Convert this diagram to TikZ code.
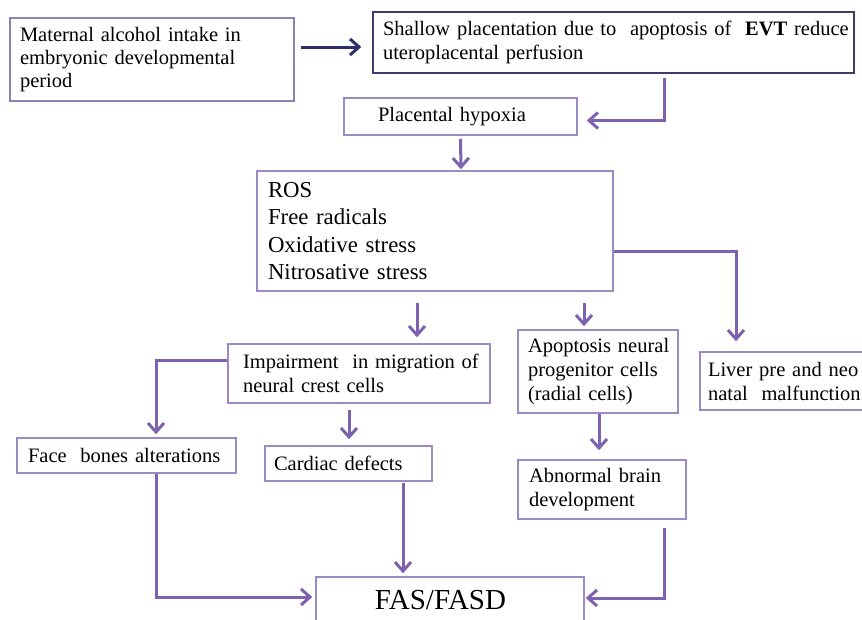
\documentclass[tikz,border=0pt]{standalone}
\usepackage{fontspec}
\setmainfont{Liberation Serif}
\usetikzlibrary{arrows.meta}
\definecolor{boxc}{HTML}{9A8BC6}
\definecolor{arrc}{HTML}{7D62AF}
\definecolor{navyc}{HTML}{2C2F6A}
\definecolor{matc}{HTML}{8C84B5}
\definecolor{shac}{HTML}{3B3D6E}
\begin{document}
\begin{tikzpicture}[x=1pt,y=-1pt,
  box/.style={draw=boxc,line width=1.5pt,rectangle,inner ysep=0pt,align=left,
    font=\fontsize{20.5}{24}\selectfont,text=black},
  arr/.style={draw=arrc,line width=3pt,-{Straight Barb[length=9pt,width=16pt]}},
  navyarr/.style={draw=navyc,line width=3pt,-{Straight Barb[length=9pt,width=16pt]}}]
\useasboundingbox (0,0) rectangle (862,619);
\fill[white] (0,0) rectangle (862,619);
\clip (0,0) rectangle (862,619);

\node[box,draw=matc,minimum width=284pt,minimum height=83pt,text width=264pt,inner xsep=10pt,
  font=\fontsize{20.5}{23}\selectfont] (mat) at (152,59.5)
  {Maternal alcohol intake in\\embryonic developmental\\period};
\node[box,draw=shac,minimum width=481pt,minimum height=61pt,text width=461pt,inner xsep=10pt] (sha) at (613.5,42.5)
  {\mbox{Shallow placentation due to\ \ apoptosis of\ \ \textbf{EVT} reduce}\\uteroplacental perfusion};
\node[box,minimum width=233pt,minimum height=37pt,text width=165pt,inner xsep=34pt] (hyp) at (460.5,116.5)
  {Placental hypoxia};
\node[box,minimum width=356pt,minimum height=120pt,text width=334pt,inner xsep=11pt,
  font=\fontsize{22.8}{27.3}\selectfont] (ros) at (435,231)
  {ROS\\Free radicals\\Oxidative stress\\Nitrosative stress};
\node[box,minimum width=262pt,minimum height=59pt,text width=232pt,inner xsep=15pt] (imp) at (359,373.5)
  {\mbox{Impairment\ \ in migration of}\\neural crest cells};
\node[box,minimum width=160pt,minimum height=83pt,text width=140pt,inner xsep=10pt] (apo) at (598,371.5)
  {\mbox{Apoptosis neural}\\progenitor cells\\(radial cells)};
\node[box,minimum width=172pt,minimum height=58pt,text width=156pt,inner xsep=8pt] (liv) at (786,381)
  {Liver pre and neo\\\mbox{natal\ \ malfunction}};
\node[box,minimum width=219pt,minimum height=35pt,text width=197pt,inner xsep=11pt] (face) at (126.5,455.5)
  {\mbox{Face\ \ bones alterations}};
\node[box,minimum width=167pt,minimum height=35pt,text width=149pt,inner xsep=9pt] (car) at (348.5,463.5)
  {Cardiac defects};
\node[box,minimum width=168pt,minimum height=59pt,text width=146pt,inner xsep=11pt] (abn) at (602,489.5)
  {Abnormal brain\\development};
\node[box,align=center,minimum width=268pt,minimum height=46pt,text width=248pt,inner xsep=10pt,
  font=\fontsize{29}{34}\selectfont] (fas) at (450,600)
  {\hspace*{-19pt}FAS/FASD};

\draw[navyarr] ([shift={(6,-12.5)}]mat.east) -- ([shift={(-11,4.5)}]sha.west);
\draw[arr] ([shift={(50.5,4)}]sha.south) |- ([shift={(9,4)}]hyp.east);
\draw[arr] ([shift={(0,3)}]hyp.south) -- ([shift={(26,-1)}]ros.north);
\draw[arr] ([shift={(0,20)}]ros.east) -| ([shift={(-50,-10)}]liv.north);
\draw[arr] ([shift={(-18,11)}]ros.south) -- ([shift={(58,-6)}]imp.north);
\draw[arr] ([shift={(149,11)}]ros.south) -- ([shift={(-14,-3)}]apo.north);
\draw[arr] ([shift={(0,-13.5)}]imp.west) -| ([shift={(29.5,-3)}]face.north);
\draw[arr] ([shift={(-10,6)}]imp.south) -- ([shift={(0.5,-6)}]car.north);
\draw[arr] ([shift={(1,0)}]apo.south) -- ([shift={(-3,-9)}]abn.north);
\draw[arr] ([xshift=29.5pt]face.south) |- ([shift={(-3,-3)}]fas.west);
\draw[arr] ([shift={(54.5,1)}]car.south) -- ([shift={(-47,-3)}]fas.north);
\draw[arr] ([shift={(62,8)}]abn.south) |- ([shift={(1,-2)}]fas.east);
\end{tikzpicture}
\end{document}
